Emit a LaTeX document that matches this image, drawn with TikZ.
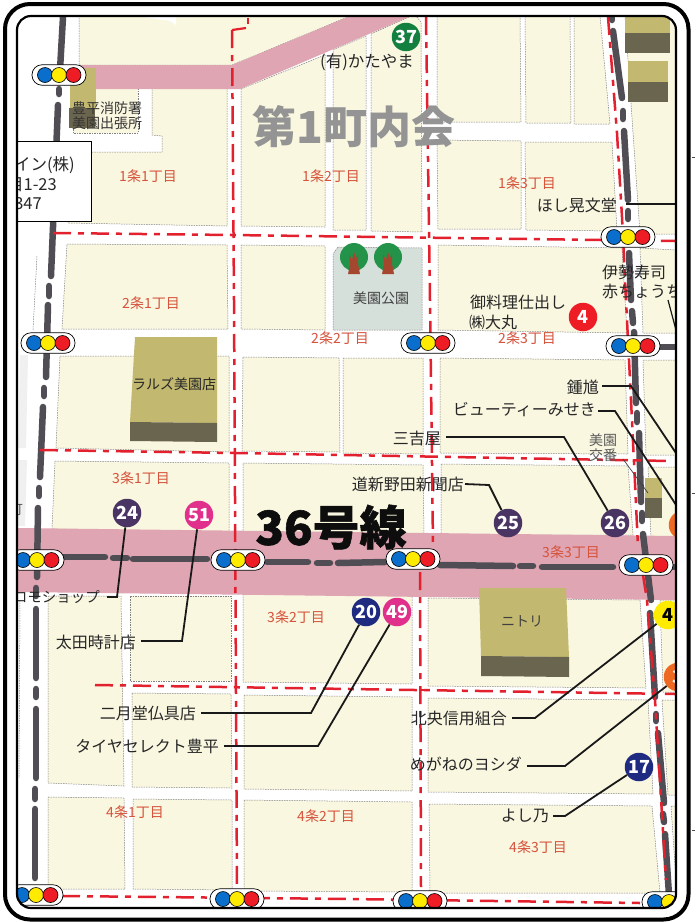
\documentclass[tikz,border=0pt]{standalone}
\usepackage{fontspec}
\setmainfont{Noto Sans CJK JP}
\newfontfamily\heavyfont[FakeBold=1.2]{Noto Sans CJK JP}
\definecolor{cream}{HTML}{FAF7E0}
\definecolor{pinkroad}{HTML}{E0A5B3}
\definecolor{darkroad}{HTML}{504E54}
\definecolor{olive}{HTML}{C2B86F}
\definecolor{darkolive}{HTML}{6A654E}
\definecolor{redline}{HTML}{E3202E}
\definecolor{chome}{HTML}{D6533C}
\definecolor{parkc}{HTML}{D6E0DA}
\definecolor{purplem}{HTML}{4A3463}
\definecolor{pinkm}{HTML}{E0308C}
\definecolor{navym}{HTML}{1E2B80}
\definecolor{greenm}{HTML}{14803F}
\definecolor{orangem}{HTML}{EE6A22}
\definecolor{lblue}{HTML}{0A6ECC}
\definecolor{lyellow}{HTML}{FFEB00}
\definecolor{lred}{HTML}{EE1C25}
\definecolor{treeg}{HTML}{24934A}
\definecolor{trunk}{HTML}{A5462F}
\newcommand{\fsz}[1]{\fontsize{#1}{#1}\selectfont}
\tikzset{
  block/.style={fill=cream,draw=black!50,line width=.5pt,dash pattern=on 1.5pt off 1pt},
  rline/.style={draw=redline,line width=2.5pt,dash pattern=on 18pt off 7pt on 6pt off 7pt},
  rdline/.style={draw=darkroad,line width=6.5pt,line cap=round},
  chomelabel/.style={text=chome,font=\fsz{14},inner sep=0pt},
  lab/.style={text=black!85,font=\fsz{16},inner sep=1pt},
  marker/.style={circle,minimum size=28.5pt,inner sep=0pt,text=white,font=\fsz{18}\bfseries},
  leader/.style={draw=black!90,line width=1.8pt},
  sigbox/.style={draw=black,line width=.7pt,fill=white,rounded corners=10pt,minimum width=54pt,minimum height=20.5pt,inner sep=0pt},
  lamp/.style={circle,draw=black,line width=.6pt,minimum size=15pt,inner sep=0pt},
}
\newcommand{\sigl}[3]{%
  \node[sigbox] (#1) at (#2,#3) {};
  \node[lamp,fill=lblue] (#1b) at (#2-14,#3) {};
  \node[lamp,fill=lyellow] (#1y) at (#2,#3) {};
  \node[lamp,fill=lred] (#1r) at (#2+14.5,#3) {};
}
\begin{document}
\begin{tikzpicture}[x=1pt,y=-1pt]
\useasboundingbox (0,0) rectangle (700,922);
\fill[white] (0,0) rectangle (700,922);
\begin{scope}
\clip[rounded corners=14pt] (17,16) rectangle (676,908);
% blocks
\filldraw[block] (79,16)--(350,16)--(232,65)--(79,65)--cycle;
\fill[white] (137,16)--(176,16)--(176,25)--(170,21)--cycle;
\filldraw[block] (73,88)--(138,88)--(138,133)--(73,133)--cycle;
\filldraw[block] (152,88)--(227,88)--(227,226)--(68,223)--(70,152)--(162,152)--(162,136)--(152,135)--cycle;
\filldraw[block] (241,89)--(325,55)--(325,227)--(241,226)--cycle;
\filldraw[block] (333,50)--(366,36)--(366,230)--(333,230)--cycle;
\filldraw[block] (371,34)--(411,16)--(416,16)--(421,22)--(422,232)--(371,231)--cycle;
\filldraw[block] (437,16)--(520,16)--(521,122)--(437,122)--cycle;
\filldraw[block] (525,16)--(570,16)--(571,123)--(526,123)--cycle;
\filldraw[block] (574,16)--(600,16)--(610,124)--(574,124)--cycle;
\filldraw[block] (437,140)--(521,141)--(521,229)--(438,229)--cycle;
\filldraw[block] (525,142)--(612,142)--(617,231)--(526,230)--cycle;
\filldraw[block] (625,16)--(676,16)--(676,234)--(640,234)--cycle;
\filldraw[block] (67,244)--(227,245)--(228,329)--(62,329)--cycle;
\filldraw[block] (241,245)--(325,246)--(325,330)--(241,329)--cycle;
\filldraw[block,fill=parkc] (338,247)--(422,248)--(422,330)--(333,330)--(333,254)--cycle;
\filldraw[block] (438,245)--(622,248)--(627,333)--(438,330)--cycle;
\filldraw[block] (640,248)--(676,250)--(676,333)--(643,333)--cycle;
\filldraw[block] (60,356)--(229,356)--(229,452)--(56,448)--cycle;
\filldraw[block] (243,357)--(339,358)--(340,452)--(242,451)--cycle;
\filldraw[block] (343,358)--(423,358)--(423,454)--(343,453)--cycle;
\filldraw[block] (440,358)--(625,360)--(628,454)--(440,453)--cycle;
\filldraw[block] (643,360)--(676,360)--(676,455)--(646,455)--cycle;
\filldraw[block] (55,461)--(229,463)--(229,532)--(52,529)--cycle;
\filldraw[block] (243,463)--(423,465)--(424,535)--(243,532)--cycle;
\filldraw[block] (441,464)--(628,466)--(633,535)--(441,535)--cycle;
\filldraw[block] (648,467)--(676,467)--(676,538)--(651,538)--cycle;
\filldraw[block] (48,596)--(121,596)--(124,786)--(48,783)--cycle;
\filldraw[block] (130,596)--(231,596)--(231,681)--(130,681)--cycle;
\filldraw[block] (132,693)--(231,694)--(232,788)--(132,787)--cycle;
\filldraw[block] (48,797)--(124,798)--(125,889)--(48,889)--cycle;
\filldraw[block] (133,799)--(232,800)--(232,890)--(133,889)--cycle;
\filldraw[block] (243,594)--(412,596)--(412,684)--(243,682)--cycle;
\filldraw[block] (244,695)--(412,697)--(412,791)--(244,789)--cycle;
\filldraw[block] (244,800)--(412,802)--(412,892)--(244,891)--cycle;
\filldraw[block] (428,598)--(640,600)--(646,688)--(428,686)--cycle;
\filldraw[block] (428,698)--(648,700)--(653,794)--(428,792)--cycle;
\filldraw[block] (429,804)--(652,806)--(660,893)--(430,893)--cycle;
\filldraw[block] (660,600)--(676,600)--(676,692)--(663,692)--cycle;
\filldraw[block] (662,700)--(676,700)--(676,795)--(668,795)--cycle;
\filldraw[block] (671,806)--(676,806)--(676,895)--(677,895)--cycle;
% left margin scraps
\fill[black!6] (20,355)--(28,355)--(26,448)--(18,448)--cycle;
\fill[black!6] (17,460)--(27,460)--(25,526)--(17,526)--cycle;
\draw[black!50,line width=.5pt,dash pattern=on 1.5pt off 1pt] (37,256)--(33,330);
\draw[black!50,line width=.5pt,dash pattern=on 1.5pt off 1pt] (20,600)--(19,778);
\node[text=black!65,font=\fsz{14},inner sep=0pt] (machi) at (16,510) {町};
% pink roads
\fill[pinkroad] (78,65)--(232,65)--(350,16)--(411,16)--(240,89)--(78,89)--cycle;
\fill[pinkroad] (17,528)--(676,536)--(676,600)--(17,592)--cycle;
% buildings
\fill[olive] (70,68)--(96,68)--(96,108)--(70,108)--cycle;
\fill[darkolive] (69,108)--(95,108)--(95,128)--(69,128)--cycle;
\fill[olive] (135,337)--(217,337)--(217,423)--(130,422)--cycle;
\fill[darkolive] (130,422)--(217,423)--(217,442)--(130,441)--cycle;
\fill[olive] (479,588)--(566,588)--(569,657)--(481,656)--cycle;
\fill[darkolive] (481,656)--(569,657)--(569,677)--(481,676)--cycle;
\fill[olive] (625,16)--(670,16)--(670,33)--(625,33)--cycle;
\fill[darkolive] (625,33)--(670,33)--(670,53)--(625,53)--cycle;
\fill[olive] (628,61)--(668,61)--(668,82)--(628,82)--cycle;
\fill[darkolive] (628,82)--(668,82)--(668,102)--(628,102)--cycle;
\fill[olive] (645,478)--(662,478)--(662,498)--(645,498)--cycle;
\fill[darkolive] (645,498)--(662,498)--(662,518)--(645,518)--cycle;
% dark roads
\foreach \a/\b/\c/\d in {63/17/60/70, 59/89/59/94, 58/105/51/276, 49/286/49/296, 48/305/46/377, 44/388/44/396, 43/407/40/477, 39/488/39/496, 38/508/37/577, 36/588/36/596, 36/609/36/678, 36/689/36/697, 36/709/36/778, 35/789/35/799, 35/809/35/878,
 612/17/612/20, 613/31/622/98, 623/111/623/119, 624/131/628/200, 628/211/628/219, 629/253/631/300, 632/311/633/323, 634/332/636/403, 637/413/637/422, 639/433/641/502, 642/513/642/521, 643/534/651/600, 650/613/655/697, 656/714/656/721, 658/733/664/803, 663/814/664/822, 665/834/669/895,
 63/557/105/557, 113/558/127/558, 133/559/207/559, 267/562/308/562, 317/563/330/563, 338/563/385/562, 440/565/513/566, 520/566/533/566, 542/567/613/567, 658/347/680/347, 660/567/680/567}{
  \draw[rdline] (\a,\b)--(\c,\d);
}
% red lines
\draw[rline] (53,233)--(232,235)--(675,241);
\draw[rline] (40,450)--(235,453)--(670,461);
\draw[rline] (95,685)--(350,689)--(675,694);
\draw[rline] (62,896)--(350,899)--(640,903);
\draw[rline] (232,30)--(234,300)--(237,890);
\draw[redline,line width=2.2pt] (232,30)--(246,28);
\draw[redline,line width=2.2pt] (248,18)--(248,24);
\draw[rline] (426,17)--(430,300)--(433,545);
\draw[rline] (420,572)--(421,887);
\draw[redline,line width=2.2pt] (420,690)--(430,690);
\draw[rline] (608,17)--(617,133)--(622,217)--(626,300)--(631,400)--(635,483)--(638,547);
\draw[rline] (643,575)--(647,600)--(655,700)--(666,880);
% trees
\foreach \tx in {354,388}{
  \fill[treeg] (\tx,257) circle (14);
  \fill[trunk] (\tx-5,254)--(\tx-2,260)--(\tx,252)--(\tx+2,258)--(\tx+4,254)--(\tx+4,264)--(\tx+6,274)--(\tx-6,274)--(\tx-4,264)--cycle;
}
% chome labels
\node[chomelabel] (c11) at (148,176) {1条1丁目};
\node[chomelabel] (c12) at (331,176) {1条2丁目};
\node[chomelabel] (c13) at (527,183) {1条3丁目};
\node[chomelabel] (c21) at (151,303) {2条1丁目};
\node[chomelabel] (c22) at (340,338) {2条2丁目};
\node[chomelabel] (c23) at (527,338) {2条3丁目};
\node[chomelabel] (c31) at (141,478) {3条1丁目};
\node[chomelabel] (c32) at (296,617) {3条2丁目};
\node[chomelabel] (c33) at (571,552) {3条3丁目};
\node[chomelabel] (c41) at (135,812) {4条1丁目};
\node[chomelabel] (c42) at (326,816) {4条2丁目};
\node[chomelabel] (c43) at (538,847) {4条3丁目};
% big titles
\node[text=black!42,font=\fsz{44}\bfseries,inner sep=0pt] (t1) at (354,127) {第1町内会};
\node[text=black!95,font=\heavyfont\fsz{47}\bfseries,inner sep=0pt] (t2) at (331,527) {36号線};
% building labels
\node[text=black!80,font=\fsz{14},inner sep=0pt,align=center] (fire) at (107,116) {豊平消防署\\[1pt]美園出張所};
\node[text=black!85,font=\fsz{14},inner sep=0pt] (rals) at (174,384) {ラルズ美園店};
\node[text=black!75,font=\fsz{14},inner sep=0pt] (park) at (381,298) {美園公園};
\node[text=black!75,font=\fsz{14},inner sep=0pt] (nitori) at (522,621) {ニトリ};
\node[text=black!65,font=\fsz{14},inner sep=0pt,align=center] (koban) at (603,448) {美園\\[1pt]交番};
% note box
\node[draw=black,line width=.7pt,fill=white,minimum width=90pt,minimum height=80pt,inner sep=0pt,anchor=north east] (notebox) at (92,141) {};
\node[lab,anchor=east,font=\fsz{16.5}] (n1) at (76,165) {イン(株)};
\node[lab,anchor=east,font=\fsz{16.5}] (n2) at (58,185) {目1-23};
\node[lab,anchor=east,font=\fsz{16.5}] (n3) at (43,204) {347};
% markers
\node[marker,fill=greenm] (m37) at (406,37) {37};
\node[marker,fill=lred] (m4) at (583,317) {4};
\node[marker,fill=purplem] (m25) at (508,523) {25};
\node[marker,fill=purplem] (m26) at (615,523) {26};
\node[marker,fill=purplem] (m24) at (127,513) {24};
\node[marker,fill=pinkm] (m51) at (199,515) {51};
\node[marker,fill=navym] (m20) at (366,612) {20};
\node[marker,fill=pinkm] (m49) at (397,612) {49};
\node[marker,fill=navym] (m17) at (639,767) {17};
\node[marker,fill=lyellow,text=black] (my4) at (668,615) {4};
\node[marker,fill=orangem] (mo3) at (678,677) {3};
\node[marker,fill=orangem] (mo) at (683,525) {};
% signals
\sigl{s1}{59}{75}
\sigl{s2}{628}{237}
\sigl{s3}{428}{343}
\sigl{s4}{633}{346}
\sigl{s5}{48}{343}
\sigl{s6}{37}{560}
\sigl{s7}{238}{560}
\sigl{s8}{413}{559}
\sigl{s9}{646}{565}
\sigl{s10}{36}{895}
\sigl{s11}{237}{899}
\sigl{s12}{420}{901}
\sigl{s13}{669}{902}
% labels
\node[lab,font=\fsz{16.5}] (l37) at (367,62) {(有)かたやま};
\node[lab,anchor=east] (lhoshi) at (618,205) {ほし晃文堂};
\node[lab,anchor=west] (lgo) at (469,302) {御料理仕出し};
\node[lab,anchor=west] (lmaru) at (468,322) {㈱大丸};
\node[lab,anchor=west] (lise) at (601,272) {伊勢寿司};
\node[lab,anchor=west] (laka) at (601,291) {赤ちょうち};
\node[lab,anchor=east] (lsho) at (600,387) {鍾馗};
\node[lab,anchor=east] (lbeauty) at (597,410) {ビューティーみせき};
\node[lab,anchor=east] (lsan) at (442,438) {三吉屋};
\node[lab,anchor=east] (ldo) at (465,484) {道新野田新聞店};
\node[lab,anchor=east,font=\fsz{14.5}] (lmo) at (101,597) {ロモショップ};
\node[lab,anchor=east] (lota) at (137,642) {太田時計店};
\node[lab,anchor=east] (lni) at (197,713) {二月堂仏具店};
\node[lab,anchor=east] (ltai) at (220,746) {タイヤセレクト豊平};
\node[lab,anchor=east] (lhok) at (508,718) {北央信用組合};
\node[lab,anchor=east] (lme) at (523,764) {めがねのヨシダ};
\node[lab,anchor=east] (lyo) at (550,816) {よし乃};
% leaders
\coordinate (eHoshi) at (676,204);
\coordinate (b25) at (489,485);
\coordinate (b26) at (564,437);
\coordinate (bsho) at (631,386);
\coordinate (esho) at (680,459);
\coordinate (bbeauty) at (615,411);
\coordinate (ebeauty) at (680,511);
\coordinate (b24) at (117,597);
\coordinate (b51) at (182,641);
\coordinate (b20) at (311,713);
\coordinate (b49) at (318,746);
\coordinate (bhok) at (535,718);
\coordinate (bme) at (565,766);
\coordinate (byo) at (565,816);
\coordinate (ise1) at (668,300);
\coordinate (ise2) at (680,345);
\coordinate (kob1) at (623,459);
\coordinate (kob2) at (648,493);
\draw[leader] (lhoshi.east)+(8,-1) -- (eHoshi);
\draw[leader] (ldo.east) -- (b25) -- (m25);
\draw[leader] (lsan.east)+(4,-1) -- (b26) -- (m26);
\draw[leader] (lsho.east)+(2,-1) -- (bsho) -- (esho);
\draw[leader] (lbeauty.east)+(1,1) -- (bbeauty) -- (ebeauty);
\draw[leader] (lmo.east)+(6,0) -- (b24) -- (m24);
\draw[leader] (lota.east)+(4,-1) -- (b51) -- (m51);
\draw[leader] (lni.east)+(4,0) -- (b20) -- (m20);
\draw[leader] (ltai.east)+(4,0) -- (b49) -- (m49);
\draw[leader] (lhok.east)+(4,0) -- (bhok) -- (my4);
\draw[leader] (lme.east)+(4,2) -- (bme) -- (mo3);
\draw[leader] (lyo.east)+(3,0) -- (byo) -- (m17);
\draw[leader,line width=1.2pt] (ise1) -- (ise2);
\draw[black!75,line width=.7pt] (kob1) -- (kob2);
\end{scope}
% frames
\draw[black,line width=2.2pt,rounded corners=14pt] (17,16) rectangle (676,908);
\draw[black,line width=4pt,rounded corners=25pt] (5,4) rectangle (688.5,919.5);
\coordinate (tk1) at (692,157); \coordinate (tk2) at (692,493); \coordinate (tk3) at (692,830);
\foreach \t in {tk1,tk2,tk3}{\draw[black!70,line width=.7pt] (\t)--++(3,0);}
\end{tikzpicture}
\end{document}
